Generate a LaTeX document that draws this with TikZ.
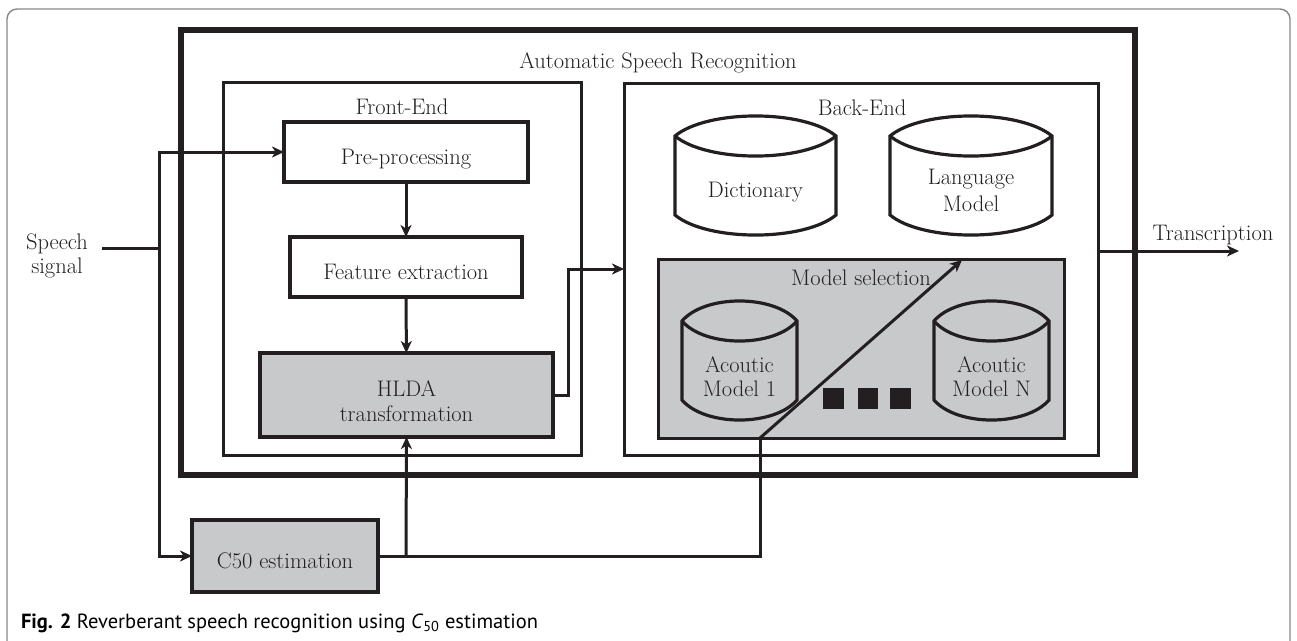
\documentclass[tikz,border=0pt]{standalone}
\usepackage{fontspec}
\newfontfamily\capfont{PT Sans}
\usetikzlibrary{arrows.meta}
\definecolor{ink}{RGB}{35,31,32}
\definecolor{boxgray}{RGB}{200,201,203}
\definecolor{framegray}{RGB}{135,135,135}
\newcommand{\dbcyl}[5]{%
  \pgfmathsetmacro{\cxa}{#1+0.2*(#2-#1)}%
  \pgfmathsetmacro{\cxb}{#2-0.2*(#2-#1)}%
  \pgfmathsetmacro{\cyt}{#3-26.7}%
  \pgfmathsetmacro{\cytl}{#3+26.7}%
  \pgfmathsetmacro{\cyb}{#4+26.7}%
  \path[cylline, fill=#5] (#1,#3) .. controls (\cxa,\cyt) and (\cxb,\cyt) .. (#2,#3) -- (#2,#4) .. controls (\cxb,\cyb) and (\cxa,\cyb) .. (#1,#4) -- cycle;
  \draw[cylline] (#1,#3) .. controls (\cxa,\cytl) and (\cxb,\cytl) .. (#2,#3);
}
\begin{document}
\begin{tikzpicture}[x=1pt,y=-1pt,
  every node/.style={font=\fontsize{22.5}{25}\selectfont, text=ink, inner sep=0pt, outer sep=0pt},
  blk/.style={draw=ink, line width=3.2pt, text height=24pt, text depth=0pt},
  frame/.style={draw=ink, line width=3pt},
  cylline/.style={draw=ink, line width=3.2pt},
  conn/.style={draw=ink, line width=3pt},
  arr/.style={conn, -{Stealth[length=12pt,width=11pt,inset=3.5pt]}},
  lbl/.style={anchor=base, align=center}
]
\useasboundingbox (0,0) rectangle (1297,640);
% caption frame
\draw[framegray, line width=1.4pt, rounded corners=10pt] (7,645) |- (1290,9) -- (1290,645);

% containers
\node[frame, line width=6pt, minimum width=954pt, minimum height=445pt] (asr) at (658,252.5) {};
\node[frame, minimum width=358pt, minimum height=373pt] (fe) at (402,268.5) {};
\node[frame, minimum width=474pt, minimum height=372pt] (be) at (861,269) {};
\node[frame, fill=boxgray, minimum width=406pt, minimum height=179pt] (ms) at (861,348.5) {};

\node[lbl] (asrlbl) at (658,68) {Automatic Speech Recognition};
\node[lbl] (felbl) at (402,114) {Front-End};
\node[lbl] (belbl) at (862,115) {Back-End};
\node[lbl] (mslbl) at (861,285) {Model selection};

% front-end blocks
\node[blk, minimum width=244pt, minimum height=60pt] (pre) at (406,152) {Pre-processing};
\node[blk, minimum width=232pt, minimum height=60pt] (feat) at (406,267) {Feature extraction};
\node[blk, fill=boxgray, minimum width=293pt, minimum height=84pt, text height=0pt] (hlda) at (406.5,395) {};
\node[lbl] (hldalbl) at (406.5,421) {HLDA\\transformation};
\node[blk, fill=boxgray, minimum width=186pt, minimum height=72pt] (c50) at (285,556) {C50 estimation};

% back-end databases
\dbcyl{675}{836}{136}{215}{white}
\node[lbl] (dict) at (755.5,197) {Dictionary};
\dbcyl{890}{1052}{136}{215}{white}
\node[lbl] (lm) at (971,211) {Language\\[2pt]Model};
\dbcyl{682}{797}{321}{400}{boxgray}
\node[lbl] (am1) at (739.5,396) {Acoutic\\[-1pt]Model 1};
\dbcyl{934}{1049}{321}{400}{boxgray}
\node[lbl] (amn) at (991.5,396) {Acoutic\\[-1pt]Model N};
\fill[ink] (823,388) rectangle (844,409);
\fill[ink] (858,388) rectangle (878,409);
\fill[ink] (890,388) rectangle (911,409);

% inputs / outputs
\node[lbl] (speech) at (57,273) {Speech\\[-1pt]signal};
\coordinate (s0) at (102,248);
\coordinate (j1) at (159,248);
\coordinate (j2) at (406,556);
\coordinate (m0) at (760,438);
\coordinate (m1) at (962,260);
\coordinate (tend) at (1239,251);
\node[lbl] (translbl) at (1213,240) {Transcription};

% connectors
\draw[conn] (s0) -- (j1);
\draw[arr] (j1) |- (pre.west);
\draw[arr] (j1) |- (c50.west);
\draw[arr] (pre) -- (feat);
\draw[arr] (feat) -- (hlda);
\draw[arr] (hlda.east) -- ++(15,0) |- (be.west);
\draw[conn] (c50.east) -- (j2);
\draw[arr] (j2) -- (hlda.south);
\draw[conn] (j2) -| (m0);
\draw[arr] (m0) -- (m1);
\draw[arr] (tend -| be.east) -- (tend);

% caption
\node[anchor=base west, font=\capfont\fontsize{20.5}{24}\selectfont, text=black] (cap) at (21,628) {\textbf{Fig. 2} Reverberant speech recognition using \textit{C}\textsubscript{50} estimation};
\end{tikzpicture}
\end{document}
